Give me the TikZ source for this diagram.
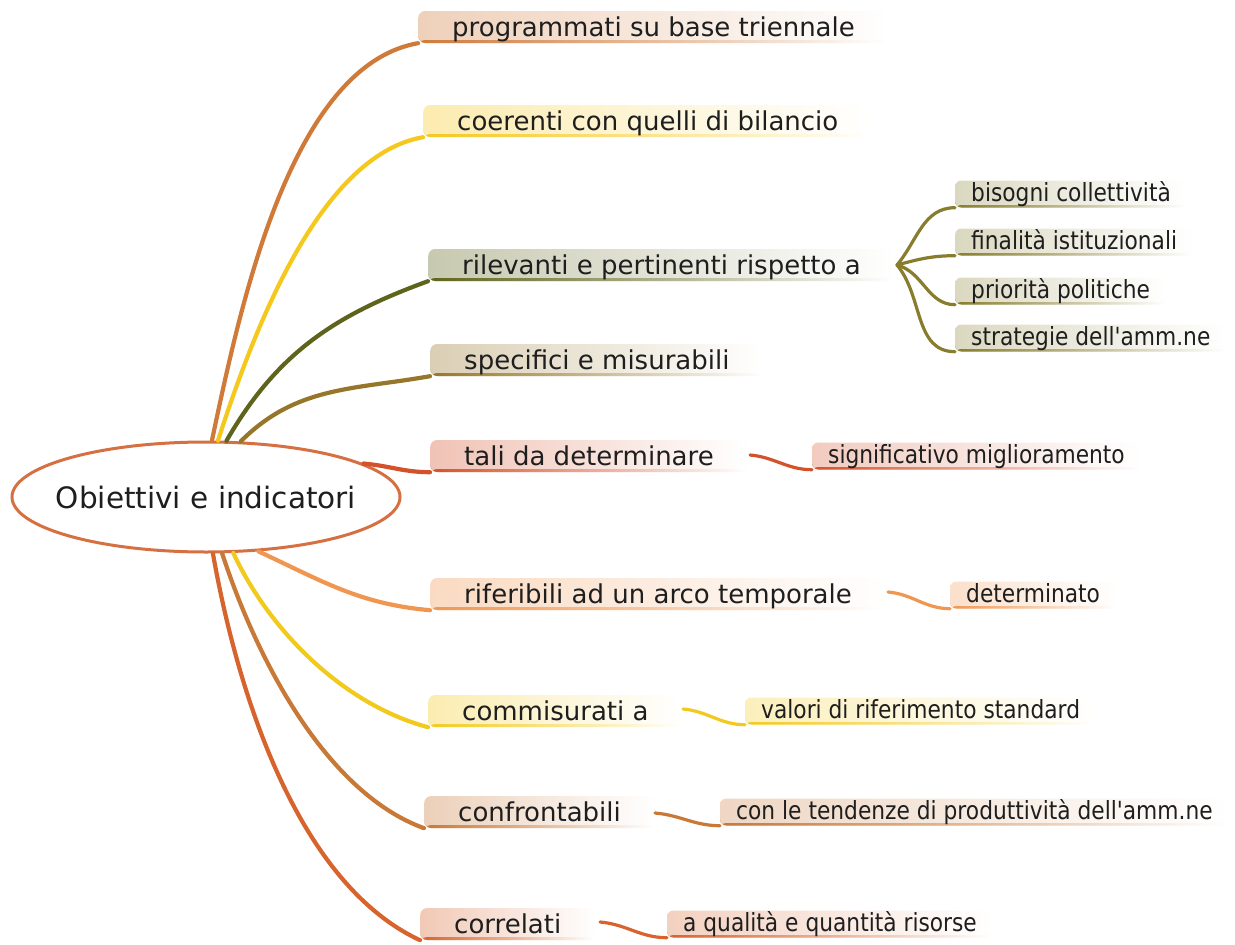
\documentclass[tikz,border=0pt]{standalone}
\usepackage{fontspec}
\setmainfont{DejaVu Sans}
\newfontfamily\subfont[FakeStretch=0.87]{DejaVu Sans}
\usepackage{xcolor}
\usepackage{tikz}
\usetikzlibrary{shapes.geometric}

\definecolor{txt}{RGB}{30,30,30}
\definecolor{rootline}{RGB}{214,112,66}
\definecolor{cProg}{RGB}{208,122,58}
\definecolor{cCoer}{RGB}{245,200,30}
\definecolor{cRil}{RGB}{95,100,28}
\definecolor{cRilSub}{RGB}{135,125,45}
\definecolor{cSpec}{RGB}{150,118,42}
\definecolor{cTali}{RGB}{212,82,42}
\definecolor{cRif}{RGB}{240,150,80}
\definecolor{cComm}{RGB}{242,202,30}
\definecolor{cConf}{RGB}{200,120,55}
\definecolor{cCorr}{RGB}{215,100,45}

\begin{document}
\begin{tikzpicture}[x=1pt,y=-1pt,
  mainbox/.style={rounded corners=7pt, left color=#1!35!white, right color=white,
    anchor=west, inner xsep=34pt, inner ysep=0pt, minimum height=32pt,
    text height=20pt, text depth=2pt, text=txt,
    font=\fontsize{26}{30}\selectfont,
    path picture={\shade[left color=#1, right color=white]
      (path picture bounding box.south west) rectangle ([yshift=3pt]path picture bounding box.south east);}},
  subbox/.style={rounded corners=6pt, left color=#1!30!white, right color=white,
    anchor=west, inner xsep=16pt, inner ysep=0pt, minimum height=27pt,
    text height=17pt, text depth=2pt, text=txt,
    font=\subfont\fontsize{25}{28}\selectfont,
    path picture={\shade[left color=#1, right color=white]
      (path picture bounding box.south west) rectangle ([yshift=2.5pt]path picture bounding box.south east);}},
  branch/.style={draw=#1, line width=4.2pt, line cap=round},
  twig/.style={draw=#1, line width=3.2pt, line cap=round}]

  \useasboundingbox (0,0) rectangle (1235,945);

  % Central idea
  \node[ellipse, draw=rootline, line width=3pt, fill=white, text=txt,
    minimum width=388pt, minimum height=110pt,
    font=\fontsize{29.5}{34}\selectfont] (root) at (206,497)
    {\makebox[0pt]{Obiettivi e indicatori}};

  % Main topics
  \node[mainbox=cProg] (prog) at (418,27) {programmati su base triennale};
  \node[mainbox=cCoer] (coer) at (423,121) {coerenti con quelli di bilancio};
  \node[mainbox=cRil] (ril) at (428,265) {rilevanti e pertinenti rispetto a};
  \node[mainbox=cSpec] (spec) at (430,360) {specifici e misurabili};
  \node[mainbox=cTali] (tali) at (430,456) {tali da determinare};
  \node[mainbox=cRif] (rif) at (430,594) {riferibili ad un arco temporale};
  \node[mainbox=cComm] (comm) at (428,711) {commisurati a};
  \node[mainbox=cConf] (conf) at (424,812) {confrontabili};
  \node[mainbox=cCorr] (corr) at (420,924) {correlati};

  % Subtopics
  \node[subbox=cRilSub] (bisogni) at (955,194) {bisogni collettività};
  \node[subbox=cRilSub] (finalita) at (955,242) {finalità istituzionali};
  \node[subbox=cRilSub] (priorita) at (955,291) {priorità politiche};
  \node[subbox=cRilSub] (strategie) at (955,338) {strategie dell'amm.ne};
  \node[subbox=cTali] (miglior) at (812,456) {significativo miglioramento};
  \node[subbox=cRif] (determ) at (950,595) {determinato};
  \node[subbox=cComm] (valori) at (745,711) {valori di riferimento standard};
  \node[subbox=cConf] (tendenze) at (720,812) {con le tendenze di produttività dell'amm.ne};
  \node[subbox=cCorr] (risorse) at (667,924) {a qualità e quantità risorse};

  % Branches from the centre
  \draw[branch=cProg] (root.84) to[out=78, in=190, looseness=0.75] (prog.south west);
  \draw[branch=cCoer] (root.78) to[out=72, in=190, looseness=0.75] (coer.south west);
  \draw[branch=cRil] (root.70) to[out=60, in=200] (ril.south west);
  \draw[branch=cSpec] (root.58) to[out=45, in=190] (spec.south west);
  \draw[branch=cTali] (root.12) to[out=-5, in=180] (tali.south west);
  \draw[branch=cRif] (root.-46) to[out=-25, in=175] (rif.south west);
  \draw[branch=cComm] (root.-64) to[out=-65, in=165, looseness=0.85] (comm.south west);
  \draw[branch=cConf] (root.-74) to[out=-72, in=160, looseness=0.8] (conf.south west);
  \draw[branch=cCorr] (root.-83) to[out=-80, in=155, looseness=0.8] (corr.south west);

  % Second level
  \coordinate (rilfork) at (897,265);
  \draw[twig=cRilSub] (rilfork) to[out=50, in=180] (bisogni.south west);
  \draw[twig=cRilSub] (rilfork) to[out=15, in=180] (finalita.south west);
  \draw[twig=cRilSub] (rilfork) to[out=-15, in=180] (priorita.south west);
  \draw[twig=cRilSub] (rilfork) to[out=-50, in=180] (strategie.south west);

  \coordinate (talisub) at (750,455);
  \draw[twig=cTali] (talisub) to[out=-5, in=180] (miglior.south west);
  \coordinate (rifsub) at (888,592);
  \draw[twig=cRif] (rifsub) to[out=-5, in=180] (determ.south west);
  \coordinate (commsub) at (683,709);
  \draw[twig=cComm] (commsub) to[out=-5, in=180] (valori.south west);
  \coordinate (confsub) at (655,813);
  \draw[twig=cConf] (confsub) to[out=-5, in=180] (tendenze.south west);
  \coordinate (corrsub) at (600,922);
  \draw[twig=cCorr] (corrsub) to[out=-5, in=180] (risorse.south west);

\end{tikzpicture}
\end{document}
